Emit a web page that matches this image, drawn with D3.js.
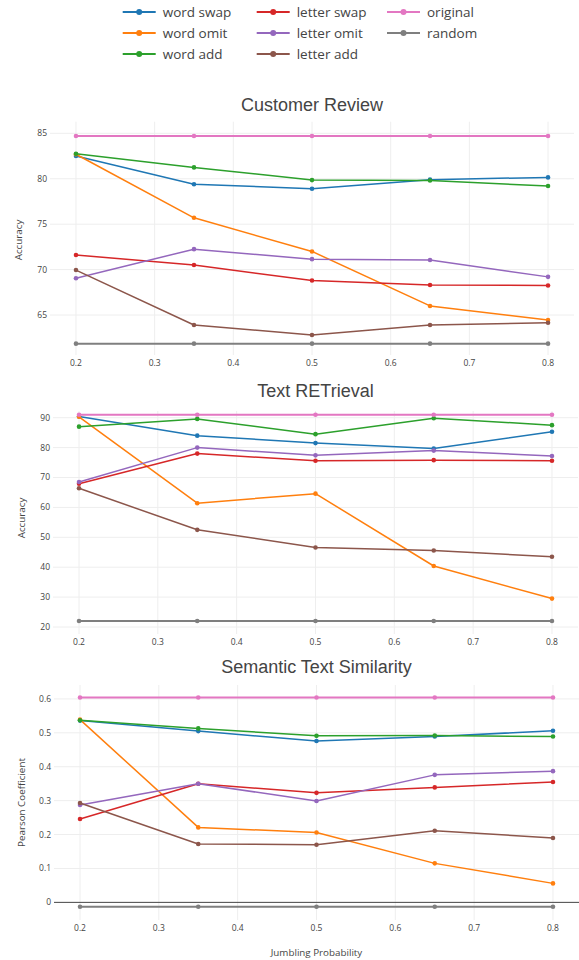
<!DOCTYPE html>
<html>
<head>
<meta charset="utf-8">
<script src="https://cdn.jsdelivr.net/npm/d3@7"></script>
<style>
  html, body { margin: 0; padding: 0; background: #fff; }
  svg { display: block; }
</style>
</head>
<body>
<svg id="chart" width="579" height="960"></svg>
<script>
// ---------------- DATA ----------------
const jumblingProbs = [0.2, 0.35, 0.5, 0.65, 0.8];
const xTicks = [0.2, 0.3, 0.4, 0.5, 0.6, 0.7, 0.8];
const seriesNames = ["word swap", "word omit", "word add", "letter swap", "letter omit", "letter add", "original", "random"];
const seriesColors = ["#1f77b4", "#ff7f0e", "#2ca02c", "#d62728", "#9467bd", "#8c564b", "#e377c2", "#7f7f7f"];
const panelTitles = ["Customer Review", "Text RETrieval", "Semantic Text Similarity"];
const yTitles = ["Accuracy", "Accuracy", "Pearson Coefficient"];
const xTitle = "Jumbling Probability";

// rows follow seriesNames order
const customerReview = [
  [82.5, 79.4, 78.9, 79.9, 80.15],
  [82.7, 75.7, 72.0, 66.0, 64.45],
  [82.75, 81.25, 79.85, 79.8, 79.2],
  [71.6, 70.5, 68.8, 68.3, 68.25],
  [69.05, 72.25, 71.15, 71.05, 69.2],
  [69.95, 63.9, 62.8, 63.9, 64.15],
  [84.7, 84.7, 84.7, 84.7, 84.7],
  [61.85, 61.85, 61.85, 61.85, 61.85]
];
const textRetrieval = [
  [90.4, 84.0, 81.5, 79.7, 85.3],
  [90.3, 61.4, 64.6, 40.4, 29.5],
  [87.0, 89.6, 84.5, 89.8, 87.5],
  [67.9, 78.0, 75.6, 75.8, 75.6],
  [68.5, 80.0, 77.4, 79.0, 77.2],
  [66.4, 52.5, 46.6, 45.6, 43.5],
  [91.0, 91.0, 91.0, 91.0, 91.0],
  [22.0, 22.0, 22.0, 22.0, 22.0]
];
const semanticSimilarity = [
  [0.536, 0.505, 0.476, 0.489, 0.506],
  [0.539, 0.221, 0.206, 0.115, 0.056],
  [0.537, 0.513, 0.491, 0.492, 0.489],
  [0.246, 0.350, 0.323, 0.339, 0.355],
  [0.287, 0.350, 0.299, 0.376, 0.387],
  [0.293, 0.172, 0.170, 0.211, 0.190],
  [0.604, 0.604, 0.604, 0.604, 0.604],
  [-0.013, -0.013, -0.013, -0.013, -0.013]
];
const crTicks = [65, 70, 75, 80, 85];
const trTicks = [20, 30, 40, 50, 60, 70, 80, 90];
const stsTicks = [0, 0.1, 0.2, 0.3, 0.4, 0.5, 0.6];

// ---------------- LAYOUT ----------------
const panels = [
  { data: customerReview, ticks: crTicks, yDomain: [60.6, 86.28], left: 50, right: 574, top: 121.7, bottom: 355,
    fmt: d3.format("d"), titleY: 110.5, yTitleX: 18.5, yTitleY: 240, zero: false },
  { data: textRetrieval, ticks: trTicks, yDomain: [17.66, 92.24], left: 53, right: 578, top: 411, bottom: 634,
    fmt: d3.format("d"), titleY: 396.7, yTitleX: 21.5, yTitleY: 518, zero: false },
  { data: semanticSimilarity, ticks: stsTicks, yDomain: [-0.052, 0.641], left: 54, right: 579, top: 685, bottom: 920,
    fmt: d => d === 0 ? "0" : d3.format(".1f")(d), titleY: 672.5, yTitleX: 21.5, yTitleY: 802.5, zero: true }
];

const svg = d3.select("#chart");
const tickFont = "'Open Sans', sans-serif";
const textColor = "#444";

panels.forEach((p, pi) => {
  const x = d3.scaleLinear().domain([0.167, 0.833]).range([p.left, p.right]);
  const y = d3.scaleLinear().domain(p.yDomain).range([p.bottom, p.top]);
  const g = svg.append("g");

  // vertical grid
  g.append("g").selectAll("line").data(xTicks).join("line")
    .attr("x1", d => x(d)).attr("x2", d => x(d))
    .attr("y1", p.top).attr("y2", p.bottom)
    .attr("stroke", "#eee").attr("stroke-width", 1);
  // horizontal grid
  g.append("g").selectAll("line").data(p.ticks.filter(t => !(p.zero && t === 0))).join("line")
    .attr("x1", p.left).attr("x2", p.right)
    .attr("y1", d => y(d)).attr("y2", d => y(d))
    .attr("stroke", "#eee").attr("stroke-width", 1);
  if (p.zero) {
    g.append("line").attr("x1", p.left).attr("x2", p.right)
      .attr("y1", y(0)).attr("y2", y(0))
      .attr("stroke", "#444").attr("stroke-width", 1);
  }

  // y tick labels
  g.append("g").selectAll("text").data(p.ticks).join("text")
    .attr("x", p.left - 3).attr("y", d => y(d)).attr("dy", "0.35em")
    .attr("text-anchor", "end")
    .attr("font-family", tickFont).attr("font-size", 8.5).attr("fill", textColor)
    .text(p.fmt);
  // x tick labels
  g.append("g").selectAll("text").data(xTicks).join("text")
    .attr("x", d => x(d)).attr("y", p.bottom + 8).attr("dy", "0.35em")
    .attr("text-anchor", "middle")
    .attr("font-family", tickFont).attr("font-size", 8.5).attr("fill", textColor)
    .text(d3.format(".1f"));

  // y title
  g.append("text")
    .attr("transform", `translate(${p.yTitleX},${p.yTitleY}) rotate(-90)`)
    .attr("dy", "0.35em").attr("text-anchor", "middle")
    .attr("font-family", tickFont).attr("font-size", 9.8).attr("fill", textColor)
    .text(yTitles[pi]);

  // panel title
  g.append("text")
    .attr("x", (p.left + p.right) / 2).attr("y", p.titleY)
    .attr("text-anchor", "middle")
    .attr("font-family", "'Liberation Sans', Arial, sans-serif").attr("font-size", 18).attr("fill", textColor)
    .text(panelTitles[pi]);

  // series
  const line = d3.line().x((d, i) => x(jumblingProbs[i])).y(d => y(d));
  p.data.forEach((vals, si) => {
    const sg = g.append("g");
    const w = si >= 6 ? 2 : 1.5;
    sg.append("path").datum(vals).attr("d", line)
      .attr("fill", "none").attr("stroke", seriesColors[si]).attr("stroke-width", w)
      .attr("stroke-linejoin", "round");
    sg.selectAll("circle").data(vals).join("circle")
      .attr("cx", (d, i) => x(jumblingProbs[i])).attr("cy", d => y(d))
      .attr("r", 2.3).attr("fill", seriesColors[si]);
  });
});

// x axis title (bottom)
svg.append("text")
  .attr("x", (panels[2].left + panels[2].right) / 2).attr("y", 953).attr("dy", "0.35em")
  .attr("text-anchor", "middle")
  .attr("font-family", tickFont).attr("font-size", 9.8).attr("fill", textColor)
  .text(xTitle);

// legend
const legendCols = [122.7, 256.7, 387];
const legendRows = [12, 33, 54];
const legend = svg.append("g");
seriesNames.forEach((name, i) => {
  const col = Math.floor(i / 3), row = i % 3;
  const lx = legendCols[col], ly = legendRows[row];
  const lg = legend.append("g").attr("transform", `translate(${lx},${ly})`);
  lg.append("line").attr("x1", 0).attr("x2", 33).attr("y1", 0).attr("y2", 0)
    .attr("stroke", seriesColors[i]).attr("stroke-width", 2);
  lg.append("circle").attr("cx", 16.5).attr("cy", 0).attr("r", 3).attr("fill", seriesColors[i]);
  lg.append("text").attr("x", 40).attr("y", 0).attr("dy", "0.35em")
    .attr("font-family", tickFont).attr("font-size", 13.5).attr("fill", textColor)
    .text(name);
});
</script>
</body>
</html>
